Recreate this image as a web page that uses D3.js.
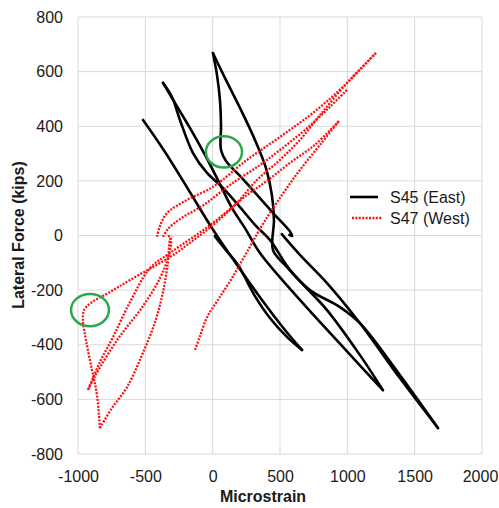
<!DOCTYPE html>
<html>
<head>
<meta charset="utf-8">
<script src="https://cdn.jsdelivr.net/npm/d3@7"></script>
<style>
  body { margin: 0; background: #fff; }
  text { font-family: "Liberation Sans", Arial, sans-serif; fill: #1a1a1a; }
</style>
</head>
<body>
<svg width="499" height="508"></svg>
<script>
// axis ticks
const xTicks = [-1000, -500, 0, 500, 1000, 1500, 2000];
const yTicks = [-800, -600, -400, -200, 0, 200, 400, 600, 800];

// S45 (East) - [microstrain, lateral force]
const s45Cycle1Down = [[-517, 423], [-354, 306], [-169, 159], [-5, 27], [166, -97], [366, -236], [537, -346], [663, -419]];
const s45Cycle1Back = [[663, -419], [559, -375], [425, -302], [314, -222], [188, -108], [91, -49], [32, -13], [17, -2]];
const s45Cycle2A = [[-369, 559], [-302, 507], [-243, 423], [-146, 302], [-42, 229], [69, 178], [203, 104], [321, 35], [425, -16], [574, -126], [849, -273], [1094, -438], [1264, -566]];
const s45Cycle2B = [[-369, 559], [-280, 485], [-169, 394], [-57, 295], [39, 203], [143, 101], [240, 27], [351, -64], [648, -236], [967, -408], [1264, -566]];
const s45Cycle3A = [[2, 668], [32, 588], [54, 496], [62, 405], [62, 313], [99, 273], [203, 218], [336, 145], [463, 75], [574, 15], [590, -2], [570, 2]];
const s45Cycle3B = [[2, 668], [91, 577], [203, 467], [314, 350], [396, 247], [440, 148], [455, 57], [448, -53], [537, -108], [722, -200], [945, -262], [1094, -321], [1390, -511], [1673, -705]];
const s45Cycle3C = [[514, 5], [537, -9], [648, -71], [849, -174], [1094, -321], [1390, -522], [1673, -705]];

// S47 (West)
const s47Cycle1Up = [[-131, -419], [-94, -368], [-42, -299], [39, -236], [143, -156], [255, -60], [373, 42], [514, 148], [648, 240], [797, 332], [938, 419]];
const s47Cycle1Down = [[938, 419], [759, 332], [574, 266], [411, 203], [255, 148], [-20, 38], [-317, -64], [-465, -119], [-614, -244], [-740, -372], [-837, -463], [-926, -566]];
const s47Cycle2Up = [[-926, -566], [-874, -515], [-710, -383], [-517, -258], [-391, -156], [-332, -82], [-310, -16], [-339, 5]];
const s47Cycle3Up = [[-837, -705], [-748, -632], [-636, -555], [-525, -438], [-428, -317], [-369, -207], [-332, -97], [-317, -16], [-302, -2]];
const s47Reload1 = [[-414, -5], [-391, 35], [-339, 82], [-191, 130], [2, 178], [255, 277], [500, 361], [745, 449], [967, 544], [1212, 668]];
const s47Reload2 = [[-369, -5], [-332, 24], [-243, 60], [-57, 115], [128, 185], [351, 258], [500, 313], [685, 386], [871, 471], [997, 533]];
const s47Cycle3Down = [[1212, 668], [1019, 570], [797, 441], [648, 350], [500, 277], [329, 203], [166, 112], [2, 38], [-169, -27], [-317, -79], [-614, -163], [-762, -207], [-896, -244], [-955, -273], [-963, -310], [-941, -383], [-896, -493], [-859, -584], [-837, -705]];

// highlighted spots (centre strain, centre force, half width in strain, half height in kips)
const circleNotes = [[84, 306, 134, 57], [-911, -273, 141, 59]];

const legendNames = ["S45 (East)", "S47 (West)"];

const s45 = [s45Cycle1Down, s45Cycle1Back, s45Cycle2A, s45Cycle2B, s45Cycle3A, s45Cycle3B, s45Cycle3C];
const s47 = [s47Cycle1Up, s47Cycle1Down, s47Cycle2Up, s47Cycle3Up, s47Reload1, s47Reload2, s47Cycle3Down];

const svg = d3.select("svg");
const x = d3.scaleLinear().domain([-1000, 2000]).range([78, 482]);
const y = d3.scaleLinear().domain([-800, 800]).range([454, 17]);

// grid
svg.append("g").selectAll("line").data(xTicks).enter().append("line")
    .attr("x1", d => x(d)).attr("x2", d => x(d))
    .attr("y1", y(-800)).attr("y2", y(800))
    .attr("stroke", "#d9d9d9").attr("stroke-width", 1);
svg.append("g").selectAll("line").data(yTicks).enter().append("line")
    .attr("x1", x(-1000)).attr("x2", x(2000))
    .attr("y1", d => y(d)).attr("y2", d => y(d))
    .attr("stroke", "#d9d9d9").attr("stroke-width", 1);

// axes, plain numbers with a hyphen for the minus sign
const fmt = d => String(d);
const xAxis = svg.append("g").attr("transform", `translate(0,${y(-800)})`)
    .call(d3.axisBottom(x).tickValues(xTicks).tickFormat(fmt).tickSize(0).tickPadding(17));
const yAxis = svg.append("g").attr("transform", `translate(${x(-1000)},0)`)
    .call(d3.axisLeft(y).tickValues(yTicks).tickFormat(fmt).tickSize(0).tickPadding(15));
[xAxis, yAxis].forEach(a => {
    a.select(".domain").remove();
    a.selectAll("text").attr("font-size", 16).attr("font-family", null).attr("fill", "#1a1a1a");
});
// last label sits against the right edge
xAxis.selectAll(".tick text").filter(d => d === 2000).attr("dx", "-2");

svg.append("text").attr("x", 263).attr("y", 502).attr("text-anchor", "middle")
    .attr("font-size", 16).attr("font-weight", "bold").text("Microstrain");
svg.append("text").attr("transform", "translate(24,235) rotate(-90)").attr("text-anchor", "middle")
    .attr("font-size", 16).attr("font-weight", "bold").text("Lateral Force (kips)");

// curves
const line = d3.line()
    .x(d => x(d[0]))
    .y(d => y(d[1]))
    .curve(d3.curveCatmullRom.alpha(0.5));

svg.append("g").selectAll("path").data(s45).enter().append("path")
    .attr("d", line).attr("fill", "none")
    .attr("stroke", "#000").attr("stroke-width", 2.6)
    .attr("stroke-linejoin", "round").attr("stroke-linecap", "round");

svg.append("g").selectAll("path").data(s47).enter().append("path")
    .attr("d", line).attr("fill", "none")
    .attr("stroke", "#ff1010").attr("stroke-width", 2.3)
    .attr("stroke-dasharray", "2,1.4");

// green notes
svg.append("g").selectAll("ellipse").data(circleNotes).enter().append("ellipse")
    .attr("cx", d => x(d[0])).attr("cy", d => y(d[1]))
    .attr("rx", d => x(d[2]) - x(0)).attr("ry", d => y(0) - y(d[3]))
    .attr("fill", "none").attr("stroke", "#2aa84a").attr("stroke-width", 2.5);

// legend
const legend = svg.append("g");
legend.append("line").attr("x1", 350).attr("x2", 378).attr("y1", 197).attr("y2", 197)
    .attr("stroke", "#000").attr("stroke-width", 2.6);
legend.append("line").attr("x1", 352).attr("x2", 382).attr("y1", 218).attr("y2", 218)
    .attr("stroke", "#ff1010").attr("stroke-width", 2.3).attr("stroke-dasharray", "2,1.4");
legend.selectAll("text").data(legendNames).enter().append("text")
    .attr("x", 390).attr("y", (d, i) => 197 + i * 21).attr("dy", "0.35em")
    .attr("font-size", 16).text(d => d);
</script>
</body>
</html>
